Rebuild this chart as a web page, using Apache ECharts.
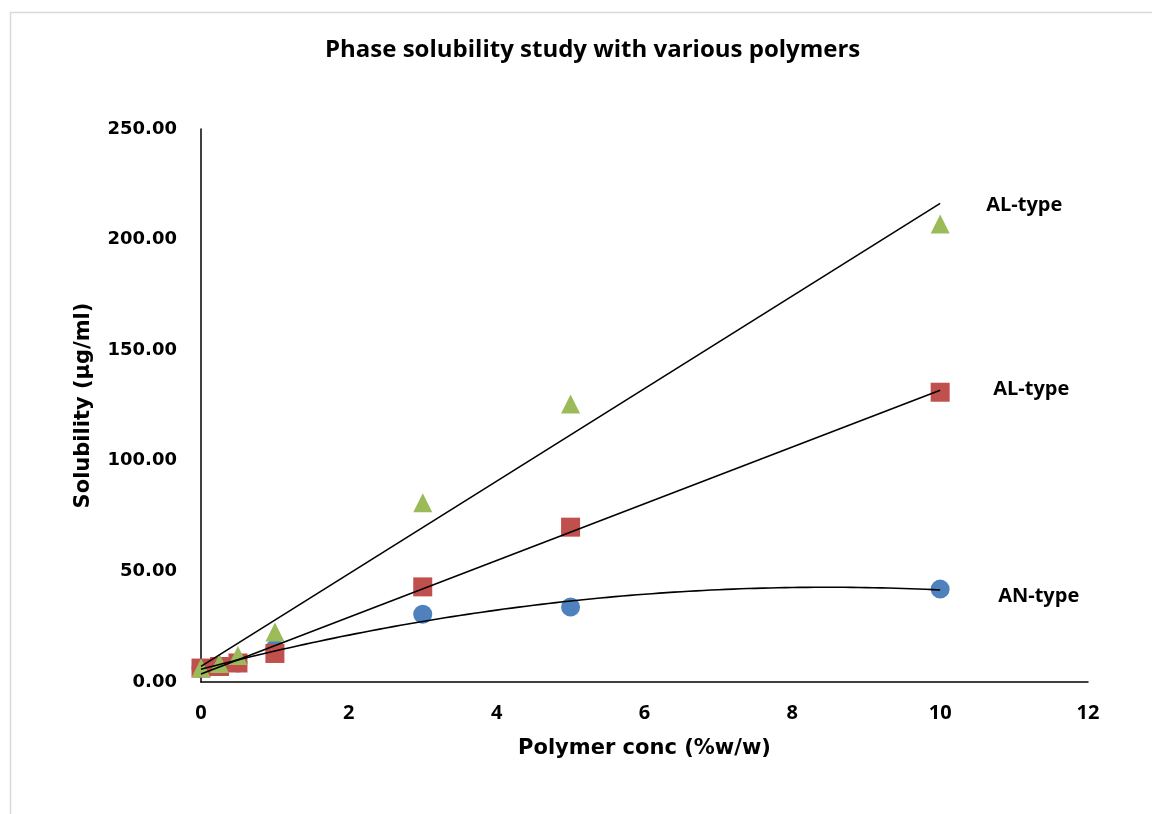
<!DOCTYPE html>
<html>
<head>
<meta charset="utf-8">
<script src="https://cdn.jsdelivr.net/npm/echarts@6/dist/echarts.min.js"></script>
<style>html,body{margin:0;padding:0;background:#fff}#c{width:1152px;height:814px}</style>
</head>
<body>
<div id="c"></div>
<script>
const polymerConc = [0, 0.25, 0.5, 1, 3, 5, 10];
const anTypeBlue = [6.2, 7.0, 8.6, 15.0, 30.6, 33.9, 42.0];
const alTypeRed = [6.3, 7.0, 8.6, 12.9, 43.0, 70.0, 131.0];
const alTypeGreen = [6.3, 8.4, 12.0, 22.6, 81.0, 125.7, 207.0];
const xTicks = [0, 2, 4, 6, 8, 10, 12];
const yTicks = ['0.00', '50.00', '100.00', '150.00', '200.00', '250.00'];
const trendLabels = ['AN-type', 'AL-type', 'AL-type'];

// least-squares polynomial fit (Excel-style trendline) from the scatter data
function polyFit(xs, ys, order) {
  const n = order + 1;
  const A = [], b = [];
  for (let i = 0; i < n; i++) {
    A.push([]);
    for (let j = 0; j < n; j++) A[i].push(xs.reduce((s, x) => s + Math.pow(x, i + j), 0));
    b.push(xs.reduce((s, x, k) => s + Math.pow(x, i) * ys[k], 0));
  }
  for (let i = 0; i < n; i++) {
    let p = i;
    for (let r = i + 1; r < n; r++) if (Math.abs(A[r][i]) > Math.abs(A[p][i])) p = r;
    [A[i], A[p]] = [A[p], A[i]]; [b[i], b[p]] = [b[p], b[i]];
    for (let r = i + 1; r < n; r++) {
      const f = A[r][i] / A[i][i];
      for (let c = i; c < n; c++) A[r][c] -= f * A[i][c];
      b[r] -= f * b[i];
    }
  }
  const coef = new Array(n).fill(0);
  for (let i = n - 1; i >= 0; i--) {
    let s = b[i];
    for (let c = i + 1; c < n; c++) s -= A[i][c] * coef[c];
    coef[i] = s / A[i][i];
  }
  return coef;
}
function trend(ys, order) {
  const coef = polyFit(polymerConc, ys, order);
  const pts = [];
  const x0 = polymerConc[0], x1 = polymerConc[polymerConc.length - 1];
  const steps = order === 1 ? 1 : 100;
  for (let i = 0; i <= steps; i++) {
    const x = x0 + (x1 - x0) * i / steps;
    pts.push([x, coef.reduce((s, c, k) => s + c * Math.pow(x, k), 0)]);
  }
  return pts;
}
function pairs(ys) { return polymerConc.map((x, i) => [x, ys[i]]); }

const chart = echarts.init(document.getElementById('c'));
const labelFont = { fontFamily: 'Open Sans', fontWeight: 'bold', fontSize: 20, color: '#000' };
function trendSeries(ys, order, label, dist, dy) {
  return {
    type: 'line', data: trend(ys, order), showSymbol: false, smooth: false,
    lineStyle: { color: '#000', width: 1.6 }, z: 5, silent: true,
    endLabel: Object.assign({ show: true, formatter: label, distance: dist, offset: [0, dy] }, labelFont)
  };
}
chart.setOption({
  animation: false,
  backgroundColor: '#fff',
  graphic: [{ type: 'rect', shape: { x: 10.5, y: 12.5, width: 1300, height: 1000 },
    style: { fill: 'none', stroke: '#d9d9d9', lineWidth: 1.5 }, silent: true }],
  title: {
    text: 'Phase solubility study with various polymers', left: 320, top: 33,
    textStyle: { fontFamily: 'Open Sans', fontWeight: 'bold', fontSize: 24, color: '#000' }
  },
  grid: { left: 201, right: 64, top: 129, bottom: 132 },
  xAxis: {
    type: 'value', min: 0, max: 12, interval: 2,
    name: 'Polymer conc (%w/w)', nameLocation: 'middle', nameGap: 56,
    nameTextStyle: { fontFamily: 'DejaVu Sans', fontWeight: 'bold', fontSize: 21, color: '#000' },
    axisLine: { lineStyle: { color: '#000', width: 1.5 } },
    axisTick: { show: false }, splitLine: { show: false },
    axisLabel: { margin: 21, fontFamily: 'Open Sans', fontWeight: 'bold', fontSize: 20, color: '#000',
      formatter: v => String(xTicks[xTicks.indexOf(v)]) }
  },
  yAxis: {
    type: 'value', min: 0, max: 250, interval: 50,
    name: 'Solubility (µg/ml)', nameLocation: 'middle', nameGap: 107, nameRotate: 90,
    nameTextStyle: { fontFamily: 'DejaVu Sans', fontWeight: 'bold', fontSize: 21, color: '#000' },
    axisLine: { show: true, lineStyle: { color: '#000', width: 1.5 } },
    axisTick: { show: false }, splitLine: { show: false },
    axisLabel: { margin: 24, fontFamily: 'DejaVu Sans', fontWeight: 'bold', fontSize: 18, color: '#000',
      formatter: v => yTicks[v / 50] }
  },
  series: [
    { type: 'scatter', data: pairs(anTypeBlue), symbol: 'circle', symbolSize: 19,
      itemStyle: { color: '#4f81bd', opacity: 1 }, z: 2 },
    { type: 'scatter', data: pairs(alTypeRed), symbol: 'rect', symbolSize: 19,
      itemStyle: { color: '#c0504d', opacity: 1 }, z: 3 },
    { type: 'scatter', data: pairs(alTypeGreen), symbol: 'triangle', symbolSize: 19,
      itemStyle: { color: '#9bbb59', opacity: 1 }, z: 4 },
    trendSeries(anTypeBlue, 2, trendLabels[0], 58, 6),
    trendSeries(alTypeRed, 1, trendLabels[1], 53, -1),
    trendSeries(alTypeGreen, 1, trendLabels[2], 46, 2)
  ]
});
</script>
</body>
</html>
